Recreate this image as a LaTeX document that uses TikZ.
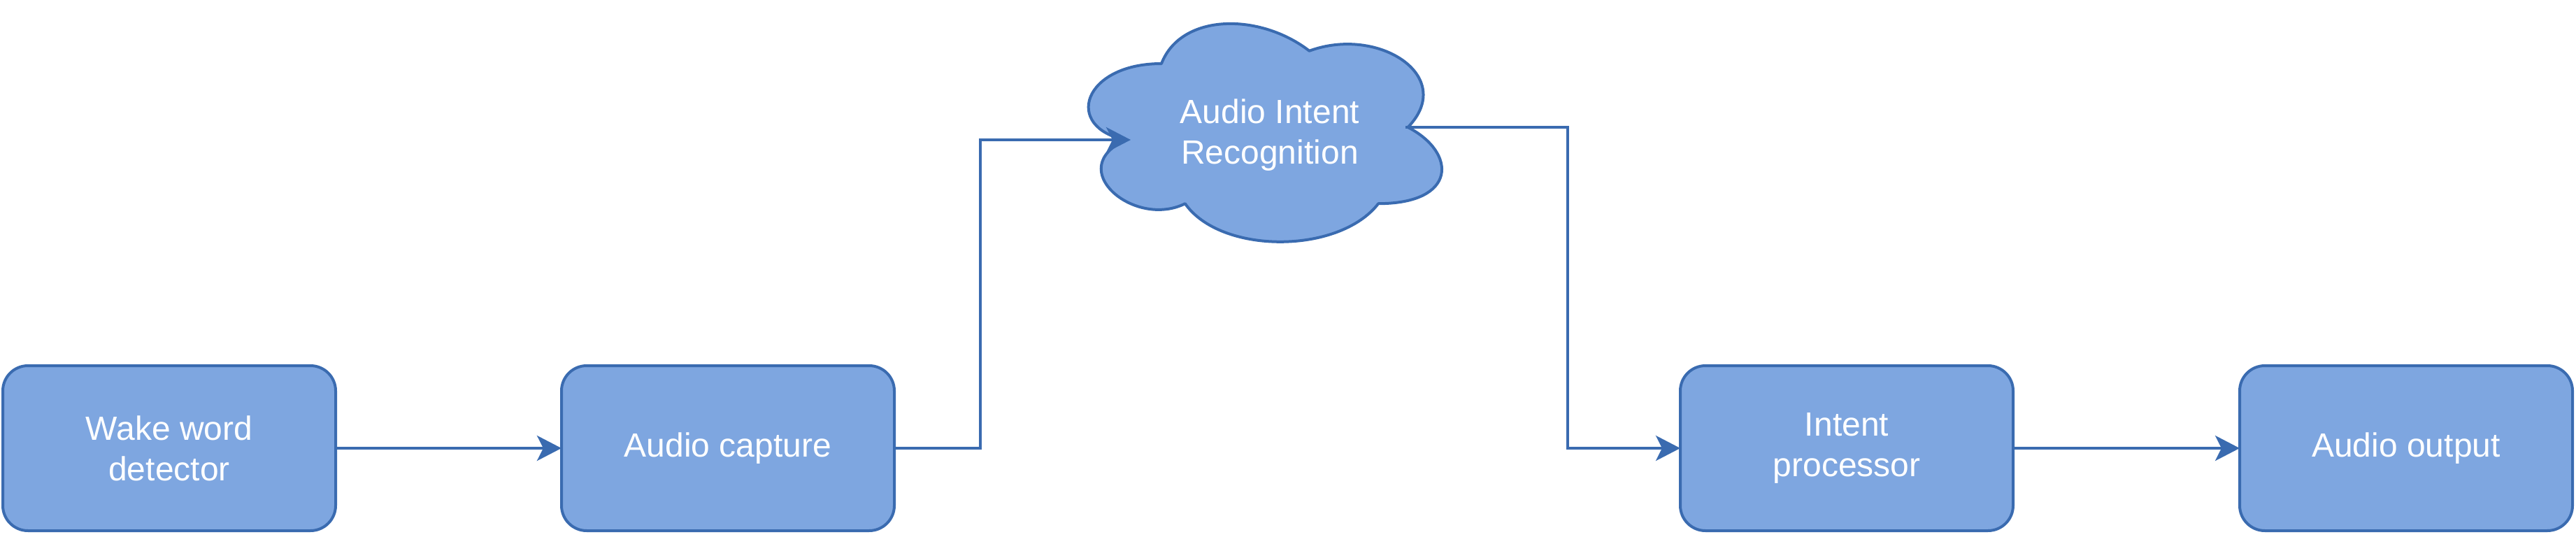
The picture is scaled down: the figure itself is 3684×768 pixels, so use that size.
\documentclass[tikz,border=0pt]{standalone}
\usepackage{fontspec}
\setmainfont{Liberation Sans}
\usetikzlibrary{arrows.meta}
\definecolor{fillblue}{HTML}{7EA6E0}
\definecolor{strokeblue}{HTML}{3A6BB0}
\begin{document}
\begin{tikzpicture}[x=1pt,y=-1pt,
  box/.style={draw=strokeblue, fill=fillblue, line width=4pt, rounded corners=36pt,
    minimum width=476pt, minimum height=236pt, inner sep=0pt, outer sep=0pt,
    text=white, font=\fontsize{48}{58}\selectfont, align=center},
  lbl/.style={inner sep=0pt, text=white, font=\fontsize{48}{58}\selectfont, align=center},
  cloudshape/.style={draw=strokeblue, fill=fillblue, line width=4pt, line join=round},
  conn/.style={draw=strokeblue, line width=4pt, -{Stealth[length=35pt,width=36pt,inset=9pt]}}]
\useasboundingbox (0,0) rectangle (3684,768);

% boxes
\node[box] (b1) at (242,641) {Wake word\\detector};
\node[box] (b2) at (1041,641) {Audio capture};
\node[box] (b3) at (2641,641) {Intent\\processor};
\node[box] (b4) at (3441,641) {Audio output};

% cloud
\begin{scope}[shift={(1520,0)},x=564pt,y=-364pt]
\draw[cloudshape] (0.25,0.25) .. controls (0.05,0.25) and (0,0.5) .. (0.16,0.55)
  .. controls (0,0.66) and (0.18,0.9) .. (0.31,0.8)
  .. controls (0.4,1) and (0.7,1) .. (0.8,0.8)
  .. controls (1,0.8) and (1,0.6) .. (0.875,0.5)
  .. controls (1,0.3) and (0.8,0.1) .. (0.625,0.2)
  .. controls (0.5,0.05) and (0.3,0.05) .. (0.25,0.25) -- cycle;
\end{scope}
\node[lbl] (cloud) at (1816,193) {Audio Intent\\Recognition};
\coordinate (cloudin) at (1617,200);
\coordinate (cloudout) at (2010,182);

% connectors
\draw[conn] (b1.east) -- (b2.west);
\draw[conn] (b2.east) -- ++(122.5,0) |- (cloudin);
\draw[conn] (cloudout) -- ++(232,0) |- (b3.west);
\draw[conn] (b3.east) -- (b4.west);
\end{tikzpicture}
\end{document}
